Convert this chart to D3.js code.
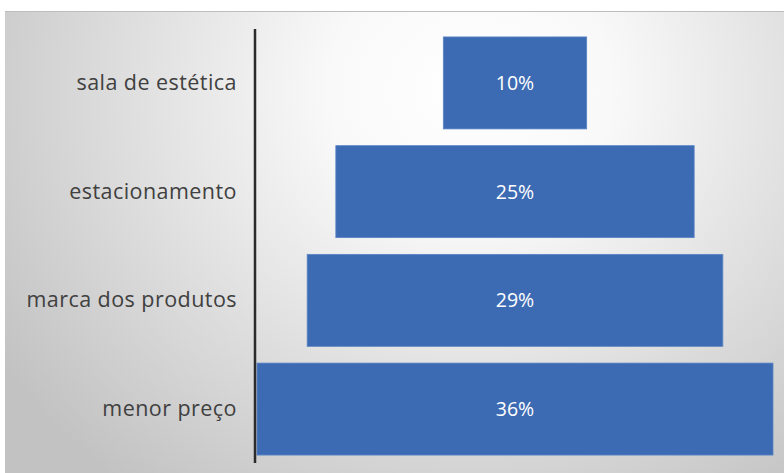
<!DOCTYPE html>
<html>
<head>
<meta charset="utf-8">
<script src="https://cdn.jsdelivr.net/npm/d3@7"></script>
<style>
  html, body { margin: 0; padding: 0; background: #ffffff; }
  svg { display: block; }
</style>
</head>
<body>
<svg id="chart" width="784" height="473"></svg>
<script>
// Funnel stages, top to bottom, and their shares (%)
const categories = ["sala de estética", "estacionamento", "marca dos produtos", "menor preço"];
const values = [10, 25, 29, 36];
const valueLabels = ["10%", "25%", "29%", "36%"];

const W = 784, H = 473;
const svg = d3.select("#chart");

// Plot frame
const frame = { x: 5, y: 11, w: W - 5, h: H - 11 };

const defs = svg.append("defs");
const grad = defs.append("radialGradient")
  .attr("id", "bg")
  .attr("gradientUnits", "userSpaceOnUse")
  .attr("cx", 470).attr("cy", 90)
  .attr("r", 560)
  .attr("gradientTransform", "translate(470,90) scale(1,0.9) translate(-470,-90)");
grad.append("stop").attr("offset", 0).attr("stop-color", "#ffffff");
grad.append("stop").attr("offset", 0.25).attr("stop-color", "#f9f9f9");
grad.append("stop").attr("offset", 0.7).attr("stop-color", "#d8d8d8");
grad.append("stop").attr("offset", 1).attr("stop-color", "#c2c2c2");

svg.append("rect")
  .attr("x", frame.x).attr("y", frame.y)
  .attr("width", frame.w).attr("height", frame.h)
  .attr("fill", "url(#bg)");
svg.append("line")
  .attr("x1", frame.x).attr("x2", W)
  .attr("y1", frame.y + 0.5).attr("y2", frame.y + 0.5)
  .attr("stroke", "#bdbdbd").attr("stroke-width", 1);

// Scales
const axisX = 255;
const y = d3.scaleBand()
  .domain(categories)
  .range([29, 463])
  .paddingInner(0.154)
  .paddingOuter(0.073);

const maxW = 516;
const w = d3.scaleLinear().domain([0, d3.max(values)]).range([0, maxW]);
const cx = 515;

// Bars
const rows = categories.map((c, i) => ({ c, v: values[i], label: valueLabels[i] }));

svg.append("g").selectAll("rect")
  .data(rows)
  .join("rect")
  .attr("x", d => cx - w(d.v) / 2)
  .attr("y", d => y(d.c))
  .attr("width", d => w(d.v))
  .attr("height", y.bandwidth())
  .attr("fill", "#3d6bb3")
  .attr("stroke", "#5a84c6")
  .attr("stroke-width", 0.8);

// Value labels
svg.append("g").selectAll("text")
  .data(rows)
  .join("text")
  .attr("x", cx)
  .attr("y", d => y(d.c) + y.bandwidth() / 2)
  .attr("dy", "0.36em")
  .attr("text-anchor", "middle")
  .attr("font-family", "'Open Sans', sans-serif")
  .attr("font-size", 19.5)
  .attr("fill", "#ffffff")
  .text(d => d.label);

// Category axis
const axis = d3.axisLeft(y).tickSize(0).tickPadding(18);
const gAxis = svg.append("g")
  .attr("transform", `translate(${axisX},0)`)
  .call(axis);
gAxis.select(".domain")
  .attr("d", `M0,29V463`)
  .attr("stroke", "#2b2b2b")
  .attr("stroke-width", 2.5);
gAxis.selectAll("text")
  .attr("font-family", "'Open Sans', sans-serif")
  .attr("font-size", 21.5)
  .attr("letter-spacing", "0.45px")
  .attr("fill", "#404040");
</script>
</body>
</html>
